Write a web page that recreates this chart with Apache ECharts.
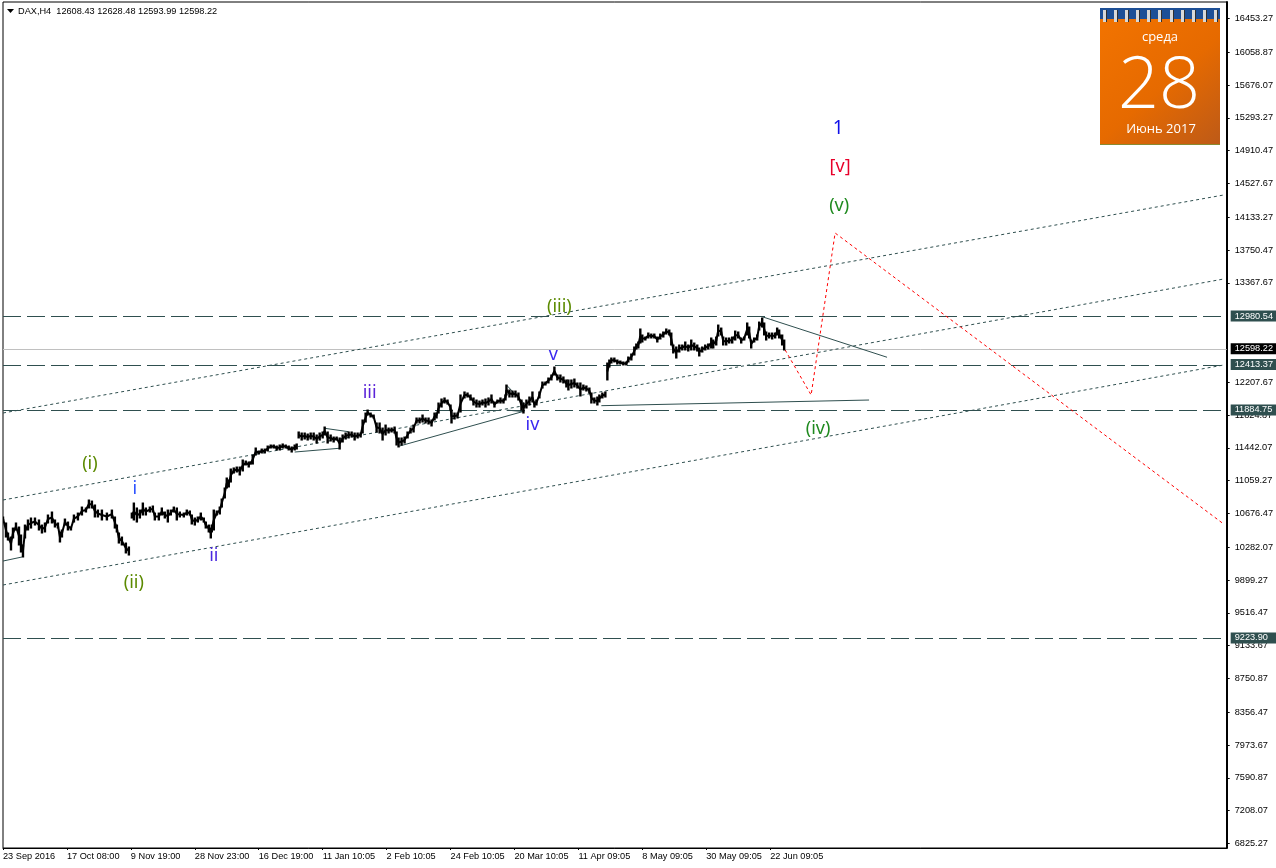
<!DOCTYPE html>
<html><head><meta charset="utf-8">
<style>html,body{margin:0;padding:0;background:#fff}#c{width:1276px;height:868px}</style>
<script src="https://cdn.jsdelivr.net/npm/echarts@6/dist/echarts.min.js"></script>
</head><body><div id="c"></div>
<script>
const xTickLabels = ['23 Sep 2016','17 Oct 08:00','9 Nov 19:00','28 Nov 23:00','16 Dec 19:00','11 Jan 10:05','2 Feb 10:05','24 Feb 10:05','20 Mar 10:05','11 Apr 09:05','8 May 09:05','30 May 09:05','22 Jun 09:05'];
const yTicks = [16453.27,16058.87,15676.07,15293.27,14910.47,14527.67,14133.27,13750.47,13367.67,12207.67,11824.87,11442.07,11059.27,10676.47,10282.07,9899.27,9516.47,9133.67,8750.87,8356.47,7973.67,7590.87,7208.07,6825.27];
const barIndex = [
0,3,5,8,10,13,16,18,20,22,25,28,32,36,39,42,45,49,52,55,57,59,62,65,68,71,75,79,83,86,89,92,95,99,104,109,112,114,116,119,123,126,
129,131,134,137,140,143,147,150,152,156,159,162,165,168,171,174,177,181,184,187,189,192,195,198,201,203,206,208,209,211,214,217,219,222,224,226,228,231,234,237,240,243,246,248,250,253,256,259,262,265,268,271,274,277,280,283,286,289,292,294,
296,299,302,305,308,311,314,317,320,322,325,328,331,334,337,340,343,346,349,352,355,358,360,363,365,368,371,374,377,380,383,386,389,392,394,396,399,402,405,408,411,414,417,420,423,426,429,432,434,436,439,442,445,448,449,452,455,
458,462,465,468,471,474,477,480,483,486,489,492,495,498,501,503,504,507,510,513,516,519,521,524,527,530,532,534,537,540,543,546,549,552,555,558,561,564,566,569,572,575,578,581,584,587,589,592,595,597,600,603,
605,607,609,612,615,618,621,624,626,629,632,634,636,638,640,643,646,649,652,655,658,661,664,667,669,671,674,677,680,683,686,689,692,695,697,700,703,706,709,711,714,716,719,721,724,727,730,733,736,739,742,745,747,749,752,755,757,760,762,764,767,770,773,775,777,780,782];
const barHigh = [
10635,10565,10448,10401,10506,10565,10518,10425,10308,10541,10600,10623,10623,10600,10541,10565,10658,10693,10600,10565,10460,10483,10611,10576,10518,10658,10681,10751,10740,10833,10821,10775,10716,10716,10681,10716,10635,10541,10448,10401,10331,10285,
10681,10798,10740,10716,10798,10740,10751,10763,10681,10681,10740,10693,10716,10716,10751,10740,10693,10681,10716,10705,10658,10623,10635,10681,10623,10576,10541,10506,10541,10716,10705,10751,10845,10973,11090,11067,11195,11207,11218,11218,11300,11288,11277,11277,11358,11440,11405,11428,11428,11463,11475,11475,11463,11475,11487,11475,11463,11452,11475,11487,
11627,11615,11615,11603,11615,11615,11592,11615,11627,11685,11627,11592,11568,11568,11557,11592,11615,11627,11627,11615,11615,11615,11767,11848,11883,11848,11825,11732,11732,11673,11708,11673,11673,11685,11627,11557,11557,11568,11627,11673,11708,11790,11790,11825,11790,11790,11767,11848,11848,11965,12012,12024,12000,11942,11883,11848,11848,
12059,12094,12082,12059,12024,12000,11988,12000,12012,12024,12059,11977,12000,12024,12012,12059,12175,12117,12105,12105,12082,12000,11965,12000,12035,12094,11977,12000,12094,12210,12210,12257,12292,12385,12292,12292,12269,12234,12234,12234,12245,12199,12199,12175,12164,12140,12082,12024,12035,12059,12082,12094,
12432,12467,12490,12490,12467,12455,12444,12444,12502,12537,12619,12654,12677,12829,12759,12735,12782,12770,12770,12735,12770,12794,12829,12817,12782,12642,12619,12642,12642,12677,12642,12700,12665,12642,12607,12619,12642,12654,12724,12700,12735,12875,12840,12735,12724,12724,12735,12805,12794,12724,12735,12899,12852,12700,12724,12759,12910,12957,12899,12794,12782,12782,12782,12840,12817,12759,12700];
const barLow = [
10600,10401,10366,10250,10390,10483,10308,10226,10168,10390,10483,10506,10541,10483,10448,10460,10565,10565,10518,10506,10343,10401,10541,10483,10483,10576,10600,10658,10693,10740,10740,10635,10635,10600,10600,10623,10506,10460,10331,10308,10215,10191,
10623,10600,10576,10623,10658,10658,10693,10693,10600,10600,10658,10623,10576,10658,10693,10600,10635,10635,10658,10658,10553,10541,10576,10600,10576,10506,10460,10390,10460,10483,10658,10670,10751,10857,10973,10985,11043,11148,11160,11125,11172,11242,11218,11253,11253,11358,11370,11382,11382,11405,11440,11440,11417,11417,11440,11440,11417,11393,11417,11428,
11557,11533,11545,11533,11545,11533,11498,11533,11557,11592,11498,11522,11510,11533,11428,11510,11545,11557,11568,11533,11557,11568,11615,11743,11825,11802,11790,11627,11615,11533,11592,11615,11627,11615,11475,11452,11475,11498,11557,11615,11627,11732,11732,11743,11732,11720,11697,11767,11790,11848,11918,11965,11953,11883,11732,11778,11790,
11860,12024,12035,12000,11942,11918,11918,11942,11918,11942,11965,11918,11965,11965,11965,12000,12059,12035,12035,12035,12000,11883,11848,11907,11942,11977,11918,11942,12024,12140,12175,12199,12234,12292,12234,12210,12199,12152,12117,12140,12152,12140,12047,12117,12105,12082,11965,11965,11942,11977,12024,12035,
12234,12385,12432,12444,12420,12420,12409,12409,12444,12467,12525,12595,12607,12665,12677,12700,12724,12724,12724,12677,12712,12735,12770,12759,12642,12549,12490,12560,12584,12584,12572,12584,12584,12572,12514,12560,12584,12595,12607,12607,12642,12747,12759,12642,12642,12665,12665,12700,12724,12665,12700,12759,12724,12607,12677,12700,12817,12852,12759,12700,12724,12712,12724,12759,12724,12642,12584];
const gapAfter = [126,294,603];
const hLevels = [12980.54,12413.37,11884.75,9223.90];
const lastPrice = 12598.22;
const channelUpper = [[0,11848.5],[1222,14392.6]];
const channelMiddle = [[0,10833.3],[1222,13412.3]];
const channelLower = [[0,9841.3],[1222,12408.7]];
const trendLines = [
 [[0,10121],[19,10168]],
 [[292,11393],[337,11437]],
 [[322,11670],[346,11630]],
 [[397,11463],[520,11864]],
 [[504,12175],[524,11930]],
 [[504,11883],[522,11864]],
 [[760,12972],[885,12499]],
 [[599,11934],[867,12000]]
];
const forecastPath = [[783,12584],[809,12059],[833,13949],[1222,10553]];
const waveLabels = [
 ['(i)',86,11265,'#5b8a00'],['(ii)',130,9876,'#5b8a00'],['i',131,10973,'#2a50ff'],['ii',210,10191,'#4a28e0'],
 ['iii',366,12094,'#5a22d8'],['iv',529,11720,'#3a28f0'],['v',550,12537,'#3a28f0'],['(iii)',556,13097,'#5b8a00'],
 ['(iv)',815,11673,'#1f8a1f'],['(v)',836,14276,'#1f8a1f'],['[v]',837,14731,'#e8002a'],['1',835,15175,'#1010e8']];
const headerText = 'DAX,H4  12608.43 12628.48 12593.99 12598.22';
const calendar = {weekday:'среда', day:'28', monthYear:'Июнь 2017'};

const UI = 'Liberation Sans';
const UISIZE = 9.2;
const SLATE = '#2f4f4f';
const bars = barIndex.map((x,i)=>[x,barHigh[i],barLow[i]]);
const lineS = (data,color,type,width,z)=>({type:'line',data,showSymbol:false,symbol:'none',silent:true,animation:false,
  lineStyle:{color,type,width:width||1},z:z||3});
const levelS = (data,stroke,dash,z)=>({type:'custom',data:data.map(v=>[v]),silent:true,animation:false,z,encode:{y:0},
  renderItem(params,api){
    const y=Math.round(api.coord([0,api.value(0)])[1])+.5, a=api.coord([0,api.value(0)])[0], b=api.coord([1225,api.value(0)])[0];
    return {type:'line',shape:{x1:a,y1:y,x2:b,y2:y},style:{stroke,lineWidth:1,lineDash:dash||null}};
  }});

const series = [];
series.push(levelS(hLevels,SLATE,[18,6],2));
series.push(levelS([lastPrice],'#c0c0c0',null,1));
[channelUpper,channelMiddle,channelLower].forEach(d=>series.push(lineS(d,SLATE,[3,3],1,2)));
trendLines.forEach(d=>series.push(lineS(d,SLATE,'solid',1,3)));
series.push(lineS(forecastPath,'#ff0000',[3,3],1,4));
series.push({type:'custom',data:bars,z:5,silent:true,animation:false,encode:{x:0,y:[1,2]},clip:true,
  renderItem(params,api){
    const i=params.dataIndex, x=api.value(0), hi=api.coord([x,api.value(1)]), lo=api.coord([x,api.value(2)]);
    const st={stroke:'#000',lineWidth:2.4,lineCap:'butt'};
    const ch=[{type:'line',shape:{x1:hi[0],y1:hi[1]-.5,x2:lo[0],y2:lo[1]+.5},style:st}];
    if(i<barIndex.length-1 && gapAfter.indexOf(barIndex[i])<0){
      const a=api.coord([x,(barHigh[i]+barLow[i])/2]), b=api.coord([barIndex[i+1],(barHigh[i+1]+barLow[i+1])/2]);
      ch.push({type:'line',shape:{x1:a[0],y1:a[1],x2:b[0],y2:b[1]},style:{stroke:'#000',lineWidth:2}});
    }
    return {type:'group',children:ch};
  }});
series.push({type:'scatter',symbolSize:0,silent:true,animation:false,z:6,itemStyle:{opacity:1},
  data:waveLabels.map(w=>({value:[w[1],w[2]],label:{show:true,position:'inside',offset:[1,1],formatter:w[0],color:w[3],fontFamily:'Noto Sans',fontSize:w[0]==='1'?19:18}}))});
const tag=(v,bg)=>({value:[1225,v],label:{show:true,position:'right',distance:4,formatter:v.toFixed(2),color:'#fff',
  backgroundColor:bg,fontFamily:UI,fontSize:UISIZE,width:42,height:11,lineHeight:11,padding:[0,0,0,4],align:'left',verticalAlign:'middle'}});
series.push({type:'scatter',symbolSize:0,silent:true,animation:false,z:20,clip:false,itemStyle:{opacity:1},
  data:hLevels.map(v=>tag(v,SLATE)).concat([tag(lastPrice,'#000')])});

const ringXs=[1103,1114,1125,1136,1147,1158,1170,1181,1192,1203,1214];
const graphic=[
 {type:'polygon',shape:{points:[[7,9],[14,9],[10.5,13]]},style:{fill:'#000'},z:50},
 {type:'rect',shape:{x:1100,y:8,width:120,height:137},z:50,
  style:{fill:new echarts.graphic.LinearGradient(0,0,1,1,[{offset:0,color:'#f37400'},{offset:.55,color:'#e66a00'},{offset:1,color:'#bd5a18'}])}},
 {type:'rect',shape:{x:1100,y:8,width:120,height:11},z:51,style:{fill:'#1d4f96'}},
 {type:'rect',shape:{x:1100,y:144,width:120,height:1},z:51,style:{fill:'#8a8a30'}},
 ...ringXs.flatMap(x=>[
  {type:'rect',shape:{x:x,y:10,width:3,height:12},z:52,style:{fill:'#d8d8d8'}},
  {type:'rect',shape:{x:x+3,y:10,width:1,height:12},z:52,style:{fill:'#303030'}}]),
 {type:'text',x:1160,y:37,z:53,style:{text:calendar.weekday,fill:'#fff',font:'400 13px "Open Sans"',align:'center',verticalAlign:'middle'}},
 {type:'text',x:1159,y:87,z:53,style:{text:calendar.day,fill:'#fff',font:'300 72px "Open Sans"',align:'center',verticalAlign:'middle'}},
 {type:'text',x:1161,y:129,z:53,style:{text:calendar.monthYear,fill:'#fff',font:'400 13px "Open Sans"',align:'center',verticalAlign:'middle'}},
 {type:'text',x:18,y:11,z:50,style:{text:headerText,fill:'#000',font:UISIZE+'px "Liberation Sans"',verticalAlign:'middle'}}
];

const chart=echarts.init(document.getElementById('c'),null,{renderer:'canvas'});
chart.setOption({
 animation:false,backgroundColor:'#fff',
 grid:{left:3,right:48,top:2,bottom:20,show:true,borderColor:'#000',borderWidth:1,backgroundColor:'#fff'},
 xAxis:{type:'value',min:0,max:1225,splitLine:{show:false},
  axisLine:{show:true,onZero:false,lineStyle:{color:'#000',width:1}},
  axisTick:{show:true,length:2,lineStyle:{color:'#000'},customValues:xTickLabels.map((_,i)=>i*64)},
  axisLabel:{customValues:xTickLabels.map((_,i)=>i*64),formatter:v=>xTickLabels[Math.round(v/64)],align:'left',margin:4,
    color:'#000',fontFamily:UI,fontSize:UISIZE,showMinLabel:true,showMaxLabel:true,hideOverlap:false}},
 yAxis:{type:'value',position:'right',min:6772.1,max:16644.9,splitLine:{show:false},
  axisLine:{show:true,onZero:false,lineStyle:{color:'#000',width:2}},
  axisTick:{show:true,length:3,inside:false,lineStyle:{color:'#000'},customValues:yTicks},
  axisLabel:{customValues:yTicks,formatter:v=>v.toFixed(2),margin:8,padding:[4,0,0,0],color:'#000',fontFamily:UI,fontSize:UISIZE,hideOverlap:false}},
 graphic,
 series
});
</script></body></html>
